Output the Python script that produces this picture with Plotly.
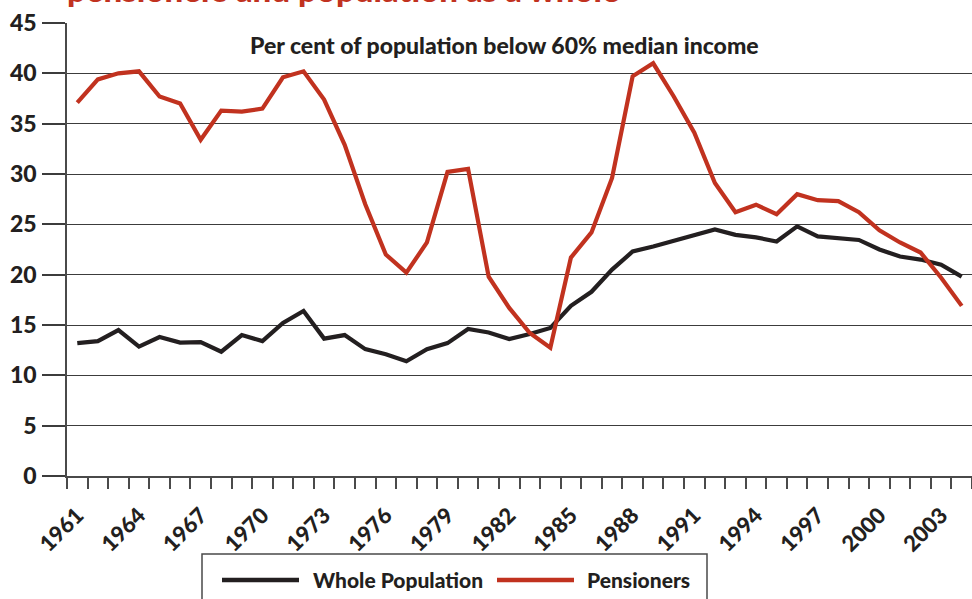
import plotly.graph_objects as go

# Poverty rates, per cent of population below 60% of median income
years = list(range(1961, 2005))
whole_population = [
    13.2, 13.4, 14.5, 12.85, 13.8, 13.25, 13.3, 12.35, 14.0, 13.4,
    15.2, 16.4, 13.65, 14.0, 12.6, 12.1, 11.4, 12.6, 13.2, 14.6,
    14.25, 13.6, 14.1, 14.7, 16.9, 18.3, 20.5, 22.3, 22.8, 23.35,
    24.0, 24.5, 23.95, 23.7, 23.3, 24.8, 23.8, 23.6, 23.45, 22.5,
    21.8, 21.5, 21.0, 19.8,
]
pensioners = [
    37.1, 39.4, 40.0, 40.2, 37.7, 37.0, 33.4, 36.3, 36.2, 36.5,
    39.6, 40.2, 37.4, 32.9, 27.0, 22.0, 20.2, 23.2, 30.2, 30.5,
    19.8, 16.7, 14.2, 12.75, 21.7, 24.2, 29.6, 39.7, 41.0, 37.7,
    34.1, 29.1, 26.2, 26.95, 26.0, 28.0, 27.4, 27.3, 26.2, 24.4,
    23.2, 22.2, 19.7, 16.9,
]
tick_years = list(range(1961, 2004, 3))
tick_labels = [str(y) for y in tick_years]
y_ticks = list(range(0, 50, 5))

series_names = ["Whole Population", "Pensioners"]
series_colors = ["#231f20", "#c1321f"]

W, H = 972, 599
ML, MR, MT, MB = 67, 0, 23, 123
PW, PH = W - ML - MR, H - MT - MB

FONT = "Lato"
HEAVY = 900
TEXT = "#231f20"
GRID = "#3c3c3c"


def px_x(p):
    return (p - ML) / PW


def px_y(p):
    return (H - MB - p) / PH


fig = go.Figure()
for name, vals, col in zip(series_names, [whole_population, pensioners], series_colors):
    fig.add_trace(go.Scatter(
        x=years, y=vals, name=name, mode="lines",
        line=dict(color=col, width=4.2),
        showlegend=False,
    ))

fig.update_layout(
    width=W, height=H,
    margin=dict(l=ML, r=MR, t=MT, b=MB, pad=0),
    paper_bgcolor="white", plot_bgcolor="white",
    font=dict(family=FONT, color=TEXT, size=21, weight=HEAVY),
    xaxis=dict(
        range=[years[0] - 0.5, years[-1] + 0.5],
        tickmode="array", tickvals=tick_years, ticktext=tick_labels,
        tickangle=-45, ticks="", showgrid=False, zeroline=False,
        showline=True, linecolor="#4a4a4a", linewidth=1.5,
        tickfont=dict(family=FONT, size=22, color=TEXT, weight=HEAVY),
        ticklabelstandoff=16,
        minor=dict(
            tickmode="array",
            tickvals=[y - 0.5 for y in years] + [years[-1] + 0.5],
            ticks="outside", ticklen=11, tickwidth=1.5, tickcolor="#4a4a4a",
            showgrid=False,
        ),
    ),
    yaxis=dict(
        range=[0, 45], tickmode="array", tickvals=y_ticks,
        ticks="outside", ticklen=23, tickwidth=1.5, tickcolor=GRID,
        showgrid=True, gridcolor=GRID, gridwidth=1.4,
        zeroline=False, showline=True, linecolor="#4a4a4a", linewidth=1.5,
        tickfont=dict(family=FONT, size=23, color=TEXT, weight=HEAVY),
        ticklabelstandoff=1,
    ),
)

# Heading (runs off the top edge of the page)
fig.add_annotation(
    xref="paper", yref="paper", x=px_x(65), y=px_y(11),
    xanchor="left", yanchor="bottom", showarrow=False,
    text="pensioners and population as a whole",
    font=dict(family=FONT, size=33, color=series_colors[1], weight=HEAVY),
)

# Subtitle inside the plot
fig.add_annotation(
    xref="paper", yref="paper", x=px_x(504), y=px_y(45),
    xanchor="center", yanchor="middle", showarrow=False,
    text="Per cent of population below 60% median income",
    font=dict(family=FONT, size=23, color=TEXT, weight=HEAVY),
)

# Legend box with long line samples
fig.add_shape(
    type="rect", xref="paper", yref="paper",
    x0=px_x(202), x1=px_x(707), y0=px_y(620), y1=px_y(554),
    line=dict(color="#4a4a4a", width=1.5), fillcolor="rgba(0,0,0,0)",
    layer="above",
)
legend_items = [(222, 299, 311), (497, 574, 585)]
for (x0, x1, tx), name, col in zip(legend_items, series_names, series_colors):
    fig.add_shape(
        type="line", xref="paper", yref="paper",
        x0=px_x(x0), x1=px_x(x1), y0=px_y(580), y1=px_y(580),
        line=dict(color=col, width=4.5),
    )
    fig.add_annotation(
        xref="paper", yref="paper", x=px_x(tx), y=px_y(579),
        xanchor="left", yanchor="middle", showarrow=False,
        text=name, font=dict(family=FONT, size=21, color=TEXT, weight=HEAVY),
    )

fig.write_html("out.html")
